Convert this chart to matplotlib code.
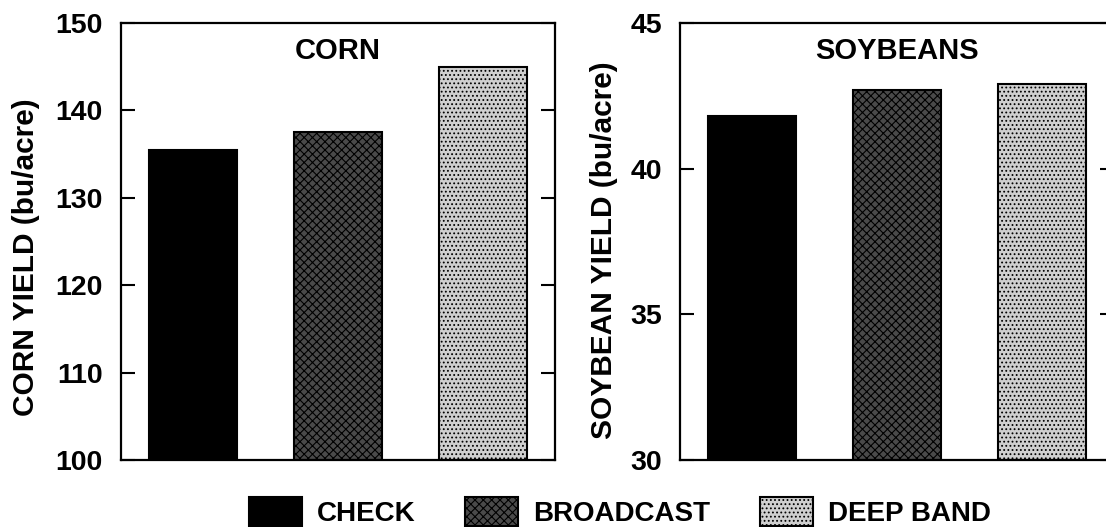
import matplotlib
matplotlib.use("Agg")
import matplotlib.pyplot as plt

plt.rcParams['font.family'] = ['Liberation Sans', 'DejaVu Sans']
plt.rcParams['font.weight'] = 'bold'
plt.rcParams['hatch.linewidth'] = 0.8

treatments = ["CHECK", "BROADCAST", "DEEP BAND"]
corn_yield = [135.5, 137.5, 145.0]
soy_yield = [41.8, 42.7, 42.9]
corn_ticks = [100, 110, 120, 130, 140, 150]
soy_ticks = [30, 35, 40, 45]

facecolors = ["black", "#4a4a4a", "#cfcfcf"]
hatches = [None, "xxxx", "...."]

W, H = 1106, 527
fig = plt.figure(figsize=(W / 100, H / 100), dpi=100)

def add_ax(x0, x1, y0, y1):
    return fig.add_axes([x0 / W, 1 - y1 / H, (x1 - x0) / W, (y1 - y0) / H])

ax1 = add_ax(121, 555, 23, 460)
ax2 = add_ax(680, 1114, 23, 460)

bars = []
for ax, vals, ticks, title in [
    (ax1, corn_yield, corn_ticks, "CORN"),
    (ax2, soy_yield, soy_ticks, "SOYBEANS"),
]:
    bs = []
    for i, (v, fc, h) in enumerate(zip(vals, facecolors, hatches)):
        b = ax.bar(i, v - ticks[0], bottom=ticks[0], width=0.61, color=fc,
                   edgecolor="black", linewidth=1.5, hatch=h, label=treatments[i])
        bs.append(b)
    bars = bs
    ax.set_xlim(-0.5, 2.5)
    ax.set_ylim(ticks[0], ticks[-1])
    ax.set_yticks(ticks)
    ax.set_xticks([])
    ax.tick_params(axis='y', direction='in', length=10, width=1.5, left=True,
                   right=True, labelsize=20.5, pad=13)
    for s in ax.spines.values():
        s.set_linewidth(1.6)
    ax.text(0.5, 0.935, title, transform=ax.transAxes, ha='center', va='center',
            fontsize=21, fontweight='bold')
    for lab in ax.get_yticklabels():
        lab.set_fontweight('bold')

fig.text(26 / W, 1 - 257 / H, "CORN YIELD (bu/acre)", rotation=90, ha='center',
         va='center', fontsize=21.5, fontweight='bold')
fig.text(604 / W, 1 - 250 / H, "SOYBEAN YIELD (bu/acre)", rotation=90, ha='center',
         va='center', fontsize=21.5, fontweight='bold')

handles = [b[0] for b in bars]
fig.legend(handles, treatments, loc='center left', bbox_to_anchor=(249 / W, 1 - 512 / H),
           ncol=3, frameon=False, fontsize=20, handlelength=1.9, handleheight=1.2,
           handletextpad=0.54, columnspacing=1.8, borderpad=0.0, borderaxespad=0.0)

fig.savefig("out.png", dpi=100)
